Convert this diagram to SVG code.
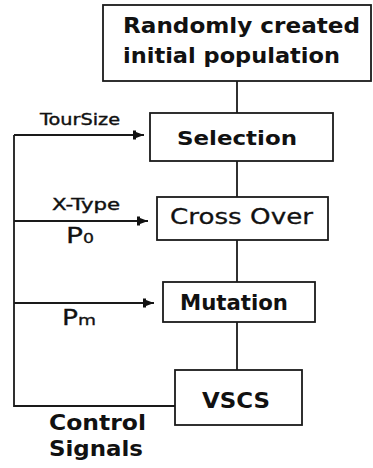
<svg xmlns="http://www.w3.org/2000/svg" width="373" height="468" viewBox="0 0 373 468">
<style>
.box{fill:#fff;stroke:#1a1a1a;stroke-width:1.8}
.ln{fill:none;stroke:#1a1a1a;stroke-width:1.8}
.b{font-family:"DejaVu Sans","Liberation Sans",sans-serif;font-weight:bold;fill:#111}
.r{font-family:"DejaVu Sans","Liberation Sans",sans-serif;fill:#111}
</style>
<defs>
<marker id="ah" markerUnits="userSpaceOnUse" markerWidth="14" markerHeight="14" viewBox="-1 -7 14 14" refX="11" refY="0" orient="auto">
<path d="M0,-4.5 H3 V-3 L11,0 L3,3 V4.5 H0 Z" fill="#111"/>
</marker>
</defs>
<rect width="373" height="468" fill="#fff"/>
<g id="connectors">
<line class="ln" x1="237" y1="81" x2="237" y2="113"/>
<line class="ln" x1="237" y1="161" x2="237" y2="197"/>
<line class="ln" x1="237" y1="240" x2="237" y2="282"/>
<line class="ln" x1="237" y1="322" x2="237" y2="370"/>
<polyline class="ln" points="175,406 14,406 14,135"/>
<line class="ln" x1="14" y1="135" x2="144" y2="135" marker-end="url(#ah)"/>
<line class="ln" x1="14" y1="221" x2="148" y2="221" marker-end="url(#ah)"/>
<line class="ln" x1="14" y1="303" x2="154" y2="303" marker-end="url(#ah)"/>
<text class="r" x="40" y="125" font-size="16" stroke="#111" stroke-width="0.4" textLength="80" lengthAdjust="spacingAndGlyphs">TourSize</text>
<text class="r" x="52" y="210" font-size="16" stroke="#111" stroke-width="0.4" textLength="68" lengthAdjust="spacingAndGlyphs">X-Type</text>
<text class="r" x="66" y="243" font-size="22" stroke="#111" stroke-width="0.3"><tspan textLength="17" lengthAdjust="spacingAndGlyphs">P</tspan><tspan font-size="14" textLength="11" lengthAdjust="spacingAndGlyphs">0</tspan></text>
<text class="r" x="62" y="325" font-size="22" stroke="#111" stroke-width="0.3"><tspan textLength="16" lengthAdjust="spacingAndGlyphs">P</tspan><tspan font-size="14" textLength="18" lengthAdjust="spacingAndGlyphs">m</tspan></text>
<text class="b" x="49" y="430" font-size="21" textLength="97" lengthAdjust="spacingAndGlyphs">Control</text>
<text class="b" x="49" y="456" font-size="21" textLength="94" lengthAdjust="spacingAndGlyphs">Signals</text>
</g>
<g id="init">
<rect class="box" x="103" y="5" width="268" height="76"/>
<text class="b" x="123" y="33" font-size="22" textLength="237" lengthAdjust="spacingAndGlyphs">Randomly created</text>
<text class="b" x="123" y="63" font-size="22" textLength="217" lengthAdjust="spacingAndGlyphs">initial population</text>
</g>
<g id="selection">
<rect class="box" x="150" y="113" width="183" height="48"/>
<text class="b" x="177" y="145" font-size="20" textLength="120" lengthAdjust="spacingAndGlyphs">Selection</text>
</g>
<g id="crossover">
<rect class="box" x="157" y="197" width="171" height="43"/>
<text class="r" x="170" y="224" font-size="22" stroke="#111" stroke-width="0.3" textLength="143" lengthAdjust="spacingAndGlyphs">Cross Over</text>
</g>
<g id="mutation">
<rect class="box" x="163" y="282" width="152" height="40"/>
<text class="b" x="180" y="310" font-size="21" textLength="108" lengthAdjust="spacingAndGlyphs">Mutation</text>
</g>
<g id="vscs">
<rect class="box" x="175" y="370" width="127" height="55"/>
<text class="b" x="202" y="408" font-size="21" textLength="68" lengthAdjust="spacingAndGlyphs">VSCS</text>
</g>
</svg>
